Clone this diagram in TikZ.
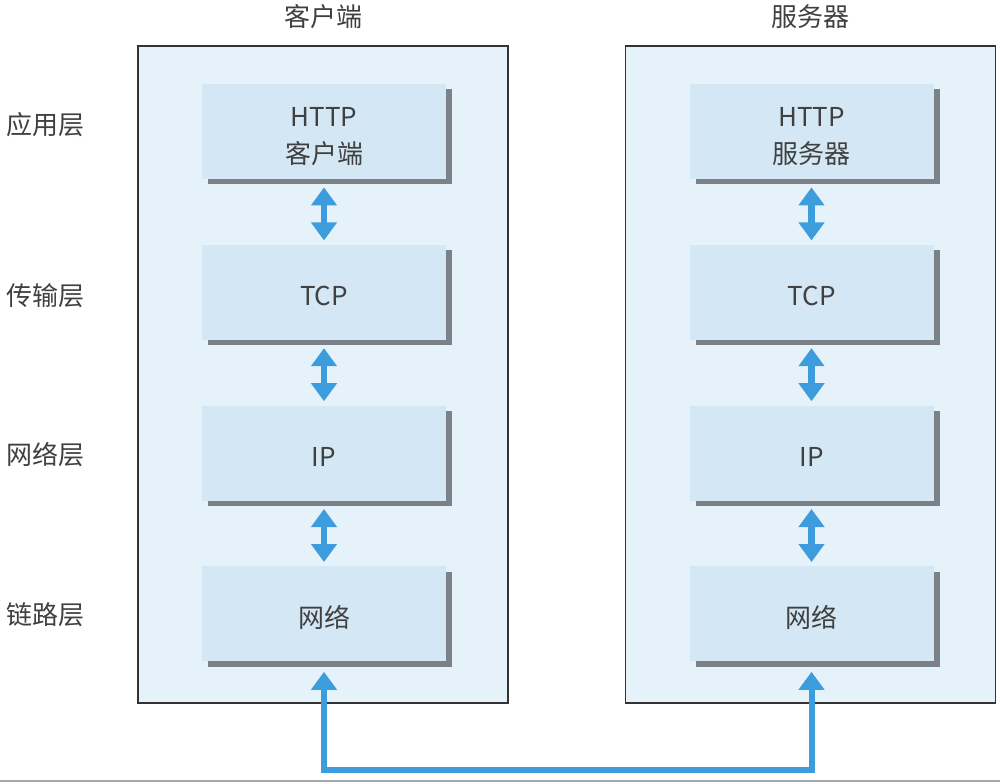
\documentclass[tikz,border=0pt]{standalone}
\usepackage{fontspec}
\setmainfont{Noto Sans CJK SC}
\usetikzlibrary{positioning,arrows.meta,shadows}
\definecolor{hostbg}{HTML}{E5F2FA}
\definecolor{layerbg}{HTML}{D3E8F4}
\definecolor{shadowgray}{HTML}{7C8187}
\definecolor{linkblue}{HTML}{3D9CDB}
\definecolor{textgray}{HTML}{404040}
\tikzset{
host/.style={draw=black!80,line width=0.7pt,fill=hostbg,minimum width=185pt,minimum height=328.5pt,inner sep=0pt},
layer/.style={fill=layerbg,minimum width=122pt,minimum height=47.5pt,inner sep=0pt,align=center,text=textgray,
  text height=13.5pt,text depth=0pt,font=\fontsize{13}{18.5}\selectfont,
  general shadow={fill=shadowgray,shadow xshift=3pt,shadow yshift=-2.6pt}},
lbl/.style={text=textgray,font=\fontsize{13}{15}\selectfont},
hop/.style={draw=linkblue,line width=3.4pt,{Triangle[width=12.5pt,length=9pt]}-{Triangle[width=12.5pt,length=9pt]},shorten <=4pt,shorten >=2pt},
wire/.style={draw=linkblue,line width=3pt,{Triangle[width=12.5pt,length=9pt]}-{Triangle[width=12.5pt,length=9pt]},shorten <=5pt,shorten >=5pt}
}
\begin{document}
\begin{tikzpicture}[x=0.5pt,y=-0.5pt,node distance=32.5pt]
\useasboundingbox (0,0) rectangle (1000,783);
\node[host] (client) at (323,374.5) {};
\node[host] (server) at (810.5,374.5) {};
\node[lbl] (ctitle) at (323,17) {客户端};
\node[lbl] (stitle) at (810.5,17) {服务器};

\node[layer,text height=32pt] (chttp) at (324,131.5) {HTTP\\客户端};
\node[layer,below=of chttp] (ctcp) {TCP};
\node[layer,below=of ctcp] (cip) {IP};
\node[layer,below=of cip] (cnet) {网络};

\node[layer,text height=32pt] (shttp) at (811.5,131.5) {HTTP\\服务器};
\node[layer,below=of shttp] (stcp) {TCP};
\node[layer,below=of stcp] (sip) {IP};
\node[layer,below=of sip] (snet) {网络};

\node[lbl] (lapp) at (45,125) {应用层};
\node[lbl] (ltrans) at (45,296) {传输层};
\node[lbl] (lnet) at (45,455) {网络层};
\node[lbl] (llink) at (45,615) {链路层};

\draw[hop] (chttp) -- (ctcp);
\draw[hop] (ctcp) -- (cip);
\draw[hop] (cip) -- (cnet);
\draw[hop] (shttp) -- (stcp);
\draw[hop] (stcp) -- (sip);
\draw[hop] (sip) -- (snet);

\coordinate (bus) at (567,770);
\draw[wire] (cnet) -- (cnet |- bus) -| (snet);
\draw[shadowgray!70,line width=0.8pt] (0,781) -- (1000,781);
\end{tikzpicture}
\end{document}
